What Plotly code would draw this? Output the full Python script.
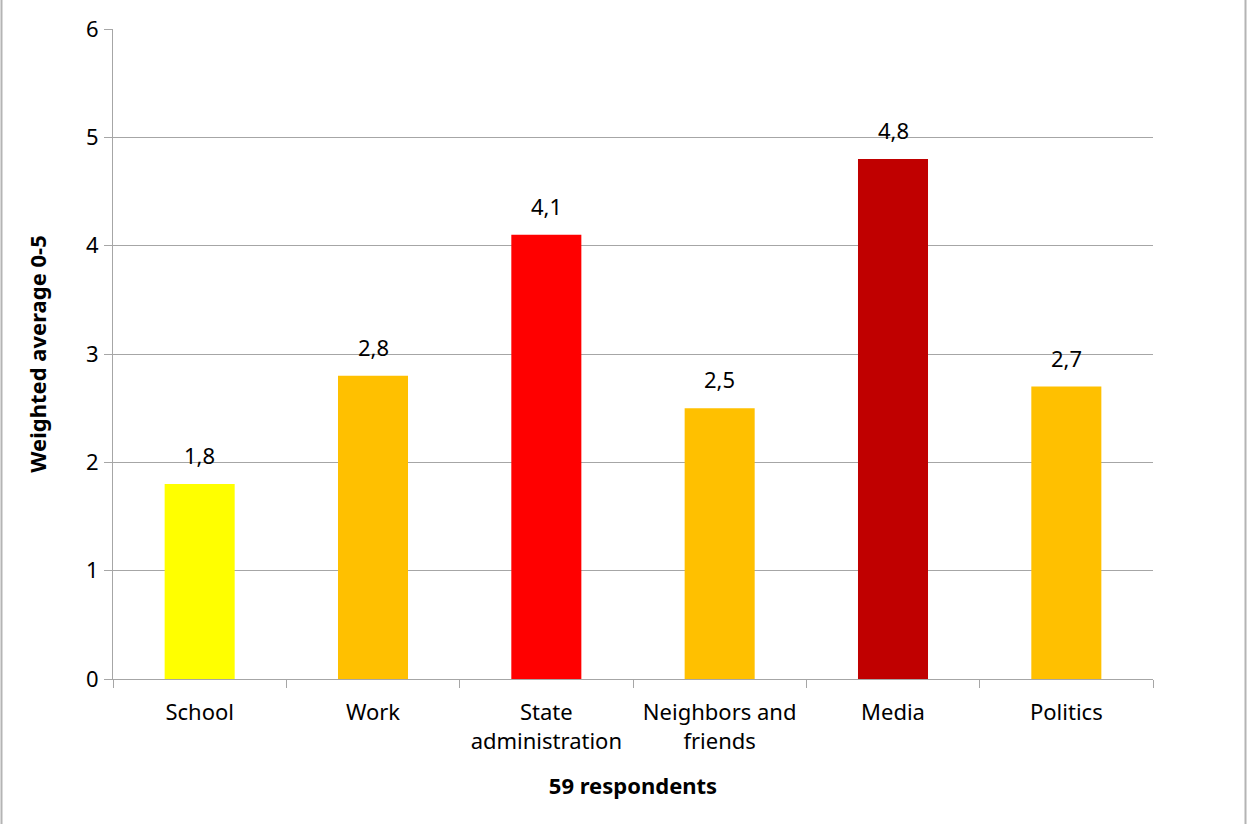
import plotly.graph_objects as go

# Survey categories and weighted averages (scale 0-5)
categories = ["School", "Work", "State<br>administration", "Neighbors and<br>friends", "Media", "Politics"]
values = [1.8, 2.8, 4.1, 2.5, 4.8, 2.7]
bar_colors = ["#FFFF00", "#FFC000", "#FF0000", "#FFC000", "#C00000", "#FFC000"]
y_ticks = [0, 1, 2, 3, 4, 5, 6]

W, H = 1247, 824
ML, MR, MT, MB = 113, 94, 29, 145
FONT = "Noto Sans"
FS = 22
GREY = "#A6A6A6"

fig = go.Figure(
    go.Bar(
        x=categories,
        y=values,
        marker=dict(color=bar_colors, line=dict(width=0)),
        hoverinfo="x+y",
    )
)

# value labels above each bar, with decimal comma
for cat, val in zip(categories, values):
    fig.add_annotation(
        x=cat, y=val, xref="x", yref="y",
        text=f"{val:.1f}".replace(".", ","),
        showarrow=False, yanchor="bottom", yshift=12,
        font=dict(family=FONT, size=FS, color="#000000"),
    )

pw = W - ML - MR
ph = H - MT - MB


def px_x(p):
    return (p - ML) / pw


def px_y(p):
    return 1 - (p - MT) / ph


# thin frame lines at the left and right page edges
for xp in (1.5, 1245.5):
    fig.add_shape(
        type="line", xref="paper", yref="paper",
        x0=px_x(xp), x1=px_x(xp), y0=px_y(0), y1=px_y(H),
        line=dict(color="#B4B4B4", width=2),
    )

fig.update_layout(
    width=W,
    height=H,
    margin=dict(l=ML, r=MR, t=MT, b=MB),
    paper_bgcolor="white",
    plot_bgcolor="white",
    separators=",.",
    bargap=0.596,
    showlegend=False,
    font=dict(family=FONT, size=FS, color="#000000"),
)

fig.update_xaxes(
    type="category",
    tickson="boundaries",
    ticks="outside",
    ticklen=8,
    tickcolor=GREY,
    showline=True,
    linecolor=GREY,
    linewidth=1,
    showgrid=False,
    tickfont=dict(family=FONT, size=FS),
    ticklabelstandoff=14,
    title=dict(text="<b>59 respondents</b>", font=dict(family=FONT, size=FS), standoff=24),
)

fig.update_yaxes(
    range=[0, 6],
    tickvals=y_ticks,
    ticks="outside",
    ticklen=8,
    tickcolor=GREY,
    showline=True,
    linecolor=GREY,
    linewidth=1,
    showgrid=True,
    gridcolor=GREY,
    gridwidth=1,
    zeroline=False,
    tickfont=dict(family=FONT, size=FS),
    ticklabelstandoff=1,
    title=dict(text="<b>Weighted average 0-5</b>", font=dict(family=FONT, size=FS), standoff=33),
)

fig.write_html("out.html")
